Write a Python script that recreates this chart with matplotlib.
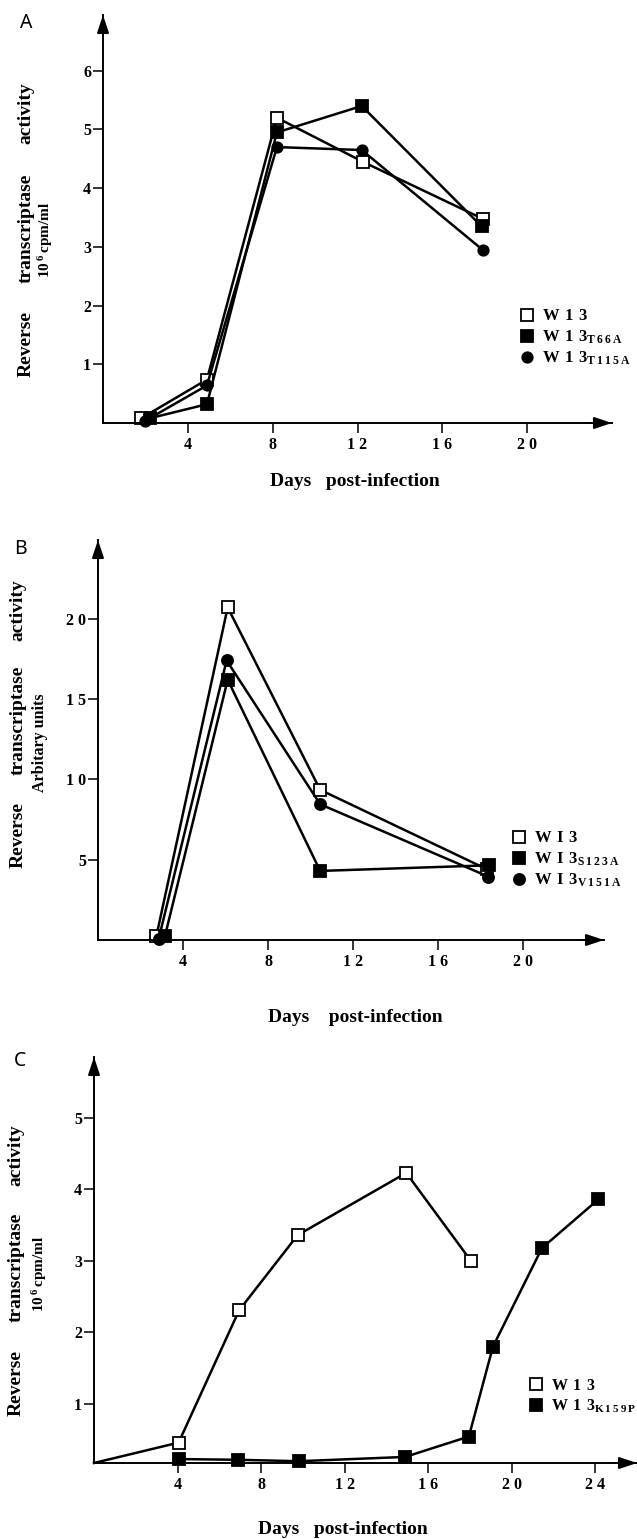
import matplotlib
matplotlib.use('Agg')
import matplotlib.pyplot as plt
from matplotlib.lines import Line2D

# DATA
# panel A
days_a_w13 = [1.8, 4.9, 8.2, 12.25, 17.9]
rt_a_w13 = [0.08, 0.74, 5.2, 4.45, 3.48]
days_a_t66a = [2.2, 4.9, 8.2, 12.2, 17.85]
rt_a_t66a = [0.08, 0.32, 4.95, 5.4, 3.35]
days_a_t115a = [2.0, 4.9, 8.2, 12.2, 17.9]
rt_a_t115a = [0.04, 0.64, 4.7, 4.65, 2.95]

# panel B
days_b_w13 = [2.75, 6.1, 10.45, 18.3]
rt_b_w13 = [0.27, 20.7, 9.35, 4.4]
days_b_s123a = [3.15, 6.1, 10.45, 18.4]
rt_b_s123a = [0.25, 16.2, 4.3, 4.65]
days_b_v151a = [2.85, 6.05, 10.45, 18.35]
rt_b_v151a = [0.05, 17.4, 8.45, 3.95]

# panel C (W13 line starts at the origin)
days_c_w13 = [0.0, 4.05, 6.95, 9.75, 14.95, 18.05]
rt_c_w13 = [0.175, 0.46, 2.31, 3.36, 4.23, 3.0]
days_c_k159p = [4.05, 6.9, 9.8, 14.9, 17.95, 19.1, 21.45, 24.15]
rt_c_k159p = [0.23, 0.22, 0.2, 0.26, 0.545, 1.8, 3.18, 3.86]

xticks = [4, 8, 12, 16, 20]
xticklabels = ['4', '8', '1 2', '1 6', '2 0']

# STYLE
plt.rcParams['font.family'] = ['Liberation Serif', 'DejaVu Serif']
plt.rcParams['font.weight'] = 'bold'
plt.rcParams['mathtext.fontset'] = 'custom'
plt.rcParams['mathtext.bf'] = 'Liberation Serif:bold'
plt.rcParams['mathtext.rm'] = 'Liberation Serif:bold'

W, H = 637, 1539
fig = plt.figure(figsize=(W / 100, H / 100), dpi=100)


def px_axes(left, top, right, bottom):
    return fig.add_axes([left / W, 1 - bottom / H, (right - left) / W, (bottom - top) / H])


def ftext(x, y, s, **kw):
    fig.text(x / W, 1 - y / H, s, ha='center', va='center', **kw)


def style_axes(ax, xt, xl, yt, yl):
    for s in ['top', 'right']:
        ax.spines[s].set_visible(False)
    for s in ['left', 'bottom']:
        ax.spines[s].set_linewidth(1.4)
    ax.set_xticks(xt)
    ax.set_xticklabels(xl)
    ax.set_yticks(yt)
    ax.set_yticklabels(yl)
    ax.tick_params(axis='x', direction='out', length=7, width=1.1, labelsize=11.5, pad=3)
    ax.tick_params(axis='y', direction='out', length=7, width=1.1, labelsize=11.5, pad=1.5)
    arrow = dict(arrowstyle='-|>,head_length=0.9,head_width=0.3', color='k', lw=1.4,
                 mutation_scale=12, shrinkA=0, shrinkB=0)
    ax.annotate('', xy=(0, 1.0), xytext=(0, 0.95), xycoords='axes fraction', arrowprops=arrow,
                annotation_clip=False)
    ax.annotate('', xy=(1.0, 0), xytext=(0.95, 0), xycoords='axes fraction', arrowprops=arrow,
                annotation_clip=False)


def series(ax, x, y, marker, filled, ms, **kw):
    ax.plot(x, y, color='k', lw=1.8, marker=marker, ms=ms, mec='k', mew=1.3,
            mfc='k' if filled else 'white', clip_on=False, **kw)


def legend(ax, entries, x, y, fs=12):
    handles = [Line2D([], [], ls='none', marker=m, ms=ms, mec='k', mew=1.3,
                      mfc='k' if f else 'white') for m, f, ms, _ in entries]
    labels = [lab for _, _, _, lab in entries]
    ax.legend(handles, labels, loc='upper left', bbox_to_anchor=(x / W, 1 - y / H),
              bbox_transform=fig.transFigure, frameon=False, fontsize=fs,
              handlelength=0.8, handletextpad=0.5, labelspacing=0.25, borderpad=0)


YL = 14  # y label size

# PANEL A
ax_a = px_axes(103, 15, 612, 423)
series(ax_a, days_a_w13, rt_a_w13, 's', False, 8)
series(ax_a, days_a_t66a, rt_a_t66a, 's', True, 8)
series(ax_a, days_a_t115a, rt_a_t115a, 'o', True, 7.5)
ax_a.set_xlim(0, 24)
ax_a.set_ylim(0, 6.95)
style_axes(ax_a, xticks, xticklabels, [1, 2, 3, 4, 5, 6], ['1', '2', '3', '4', '5', '6'])
legend(ax_a, [('s', False, 8, r'$\mathbf{W\ 1\ 3}$'),
              ('s', True, 8, r'$\mathbf{W\ 1\ 3_{T\,6\,6\,A}}$'),
              ('o', True, 7.5, r'$\mathbf{W\ 1\ 3_{T\,1\,1\,5\,A}}$')], 512, 300)

ftext(26, 113, 'activity', rotation=90, fontsize=YL)
ftext(26, 228, 'transcriptase', rotation=90, fontsize=YL)
ftext(26, 344, 'Reverse', rotation=90, fontsize=YL)
ftext(46, 240, r'$\mathbf{10^{\,6}\,cpm/ml}$', rotation=90, fontsize=11)
ftext(355, 482, 'Days   post-infection', fontsize=14)
ftext(26, 23, 'A', fontsize=14, family='Noto Sans', fontweight='normal')

# PANEL B
ax_b = px_axes(98, 540, 604, 940)
series(ax_b, days_b_w13, rt_b_w13, 's', False, 8)
series(ax_b, days_b_s123a, rt_b_s123a, 's', True, 8)
series(ax_b, days_b_v151a, rt_b_v151a, 'o', True, 8)
ax_b.set_xlim(0, 23.8)
ax_b.set_ylim(0, 24.9)
style_axes(ax_b, xticks, xticklabels, [5, 10, 15, 20], ['5', '1 0', '1 5', '2 0'])
legend(ax_b, [('s', False, 8, r'$\mathbf{W\ I\ 3}$'),
              ('s', True, 8, r'$\mathbf{W\ I\ 3_{S\,1\,2\,3\,A}}$'),
              ('o', True, 8, r'$\mathbf{W\ I\ 3_{V\,1\,5\,1\,A}}$')], 504, 822)

ftext(18, 610, 'activity', rotation=90, fontsize=YL)
ftext(18, 720, 'transcriptase', rotation=90, fontsize=YL)
ftext(18, 835, 'Reverse', rotation=90, fontsize=YL)
ftext(40, 743, 'Arbitary units', rotation=90, fontsize=11.5)
ftext(355, 1017, 'Days    post-infection', fontsize=14)
ftext(20, 549, 'B', fontsize=14, family='Noto Sans', fontweight='normal')

# PANEL C
ax_c = px_axes(94, 1057, 637, 1463)
series(ax_c, days_c_w13, rt_c_w13, 's', False, 8, markevery=list(range(1, len(days_c_w13))))
series(ax_c, days_c_k159p, rt_c_k159p, 's', True, 8)
ax_c.set_xlim(0, 26)
ax_c.set_ylim(0.175, 5.85)
style_axes(ax_c, xticks + [24], xticklabels + ['2 4'], [1, 2, 3, 4, 5], ['1', '2', '3', '4', '5'])
legend(ax_c, [('s', False, 8, r'$\mathbf{W\ 1\ 3}$'),
              ('s', True, 8, r'$\mathbf{W\ 1\ 3_{K\,1\,5\,9\,P}}$')], 522, 1370, fs=11.5)

ftext(16, 1155, 'activity', rotation=90, fontsize=YL)
ftext(16, 1267, 'transcriptase', rotation=90, fontsize=YL)
ftext(16, 1383, 'Reverse', rotation=90, fontsize=YL)
ftext(40, 1274, r'$\mathbf{10^{\,6}\,cpm/ml}$', rotation=90, fontsize=11)
ftext(343, 1529, 'Days   post-infection', fontsize=14)
ftext(20, 1061, 'C', fontsize=14, family='Noto Sans', fontweight='normal')

fig.savefig('out.png', dpi=100)
